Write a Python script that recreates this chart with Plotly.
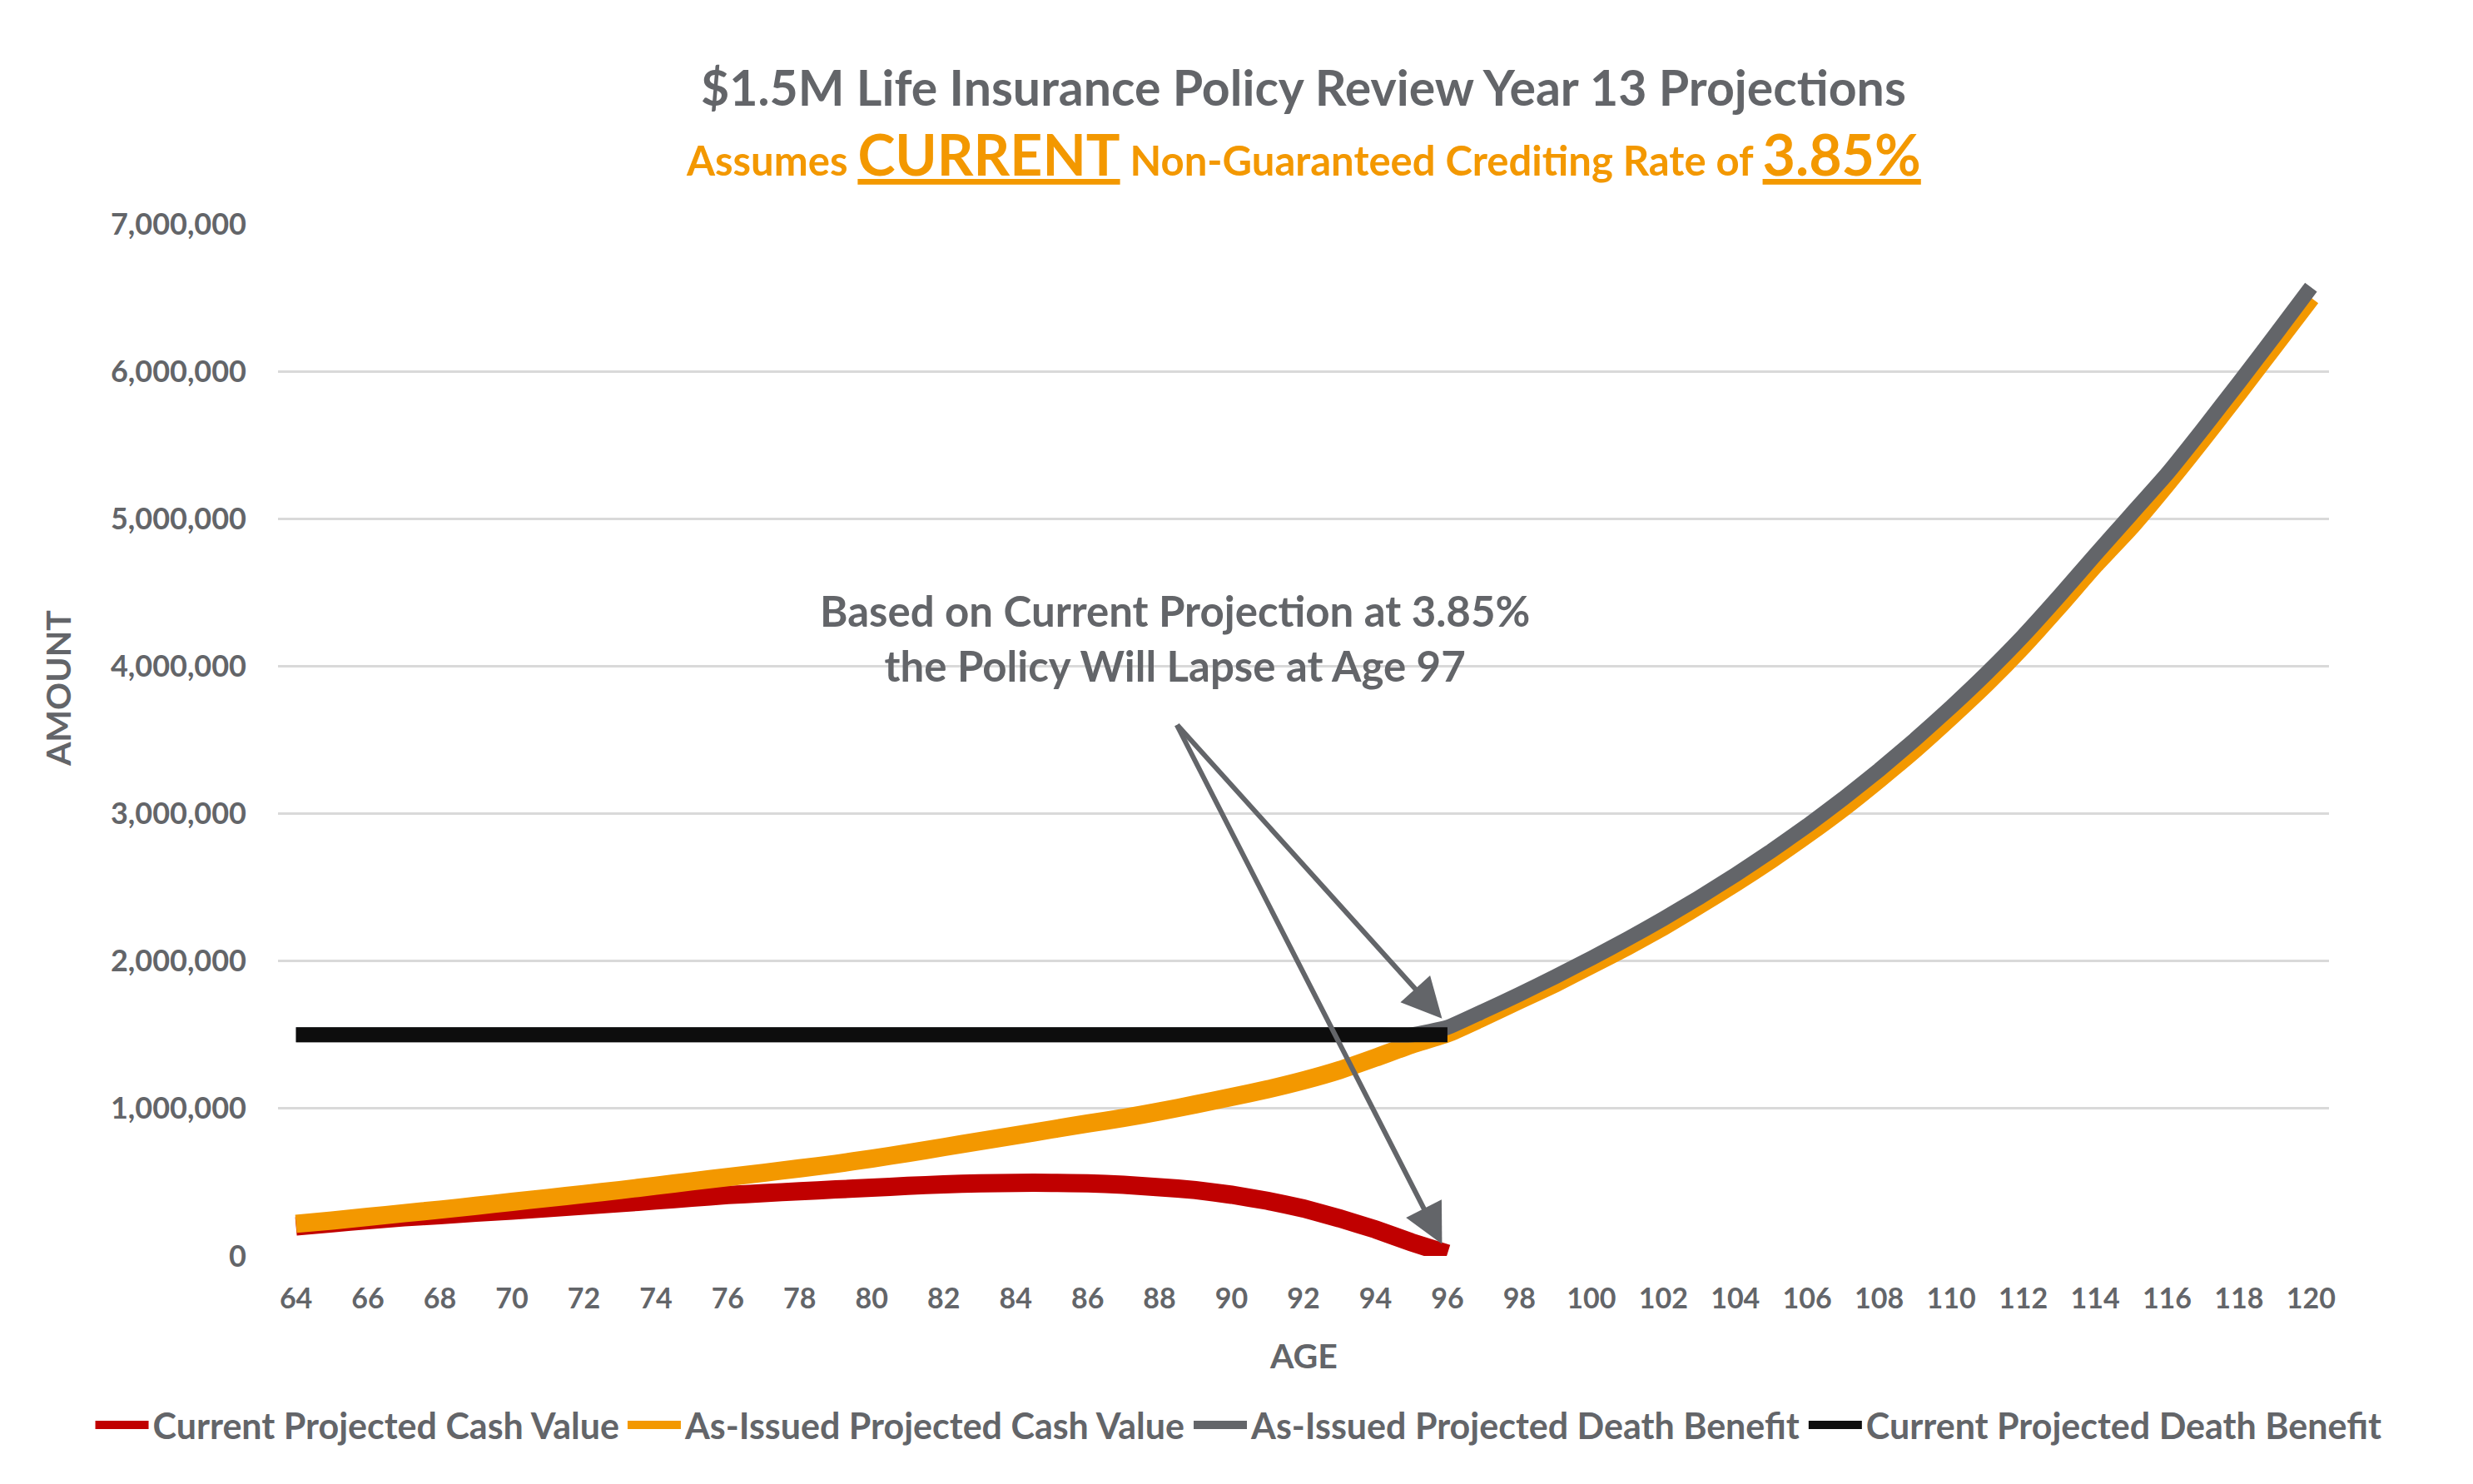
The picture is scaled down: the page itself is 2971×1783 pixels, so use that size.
import plotly.graph_objects as go

# ages on the x axis
ages = list(range(64, 121))
ages_current = list(range(64, 97))

# Current Projected Cash Value (runs out at 96)
current_cash = [200000, 222000, 243000, 262000, 277000, 293000, 308000, 324000, 341000, 358000,
                376000, 395000, 413000, 426000, 439000, 451000, 463000, 475000, 486000, 493000,
                496000, 496000, 492000, 483000, 466000, 447000, 415000, 374000, 322000, 255000,
                180000, 92000, 15000]

# As-Issued Projected Cash Value
issued_cash = [218000, 240000, 265000, 290000, 314000, 340000, 367000, 393000, 420000, 447000,
               476000, 506000, 535000, 564000, 594000, 625000, 660000, 698000, 738000, 778000,
               818000, 858000, 898000, 936000, 980000, 1028000, 1078000, 1130000, 1190000, 1260000,
               1345000, 1434000, 1510000, 1620000, 1735000, 1850000, 1975000, 2100000, 2235000, 2380000,
               2530000, 2690000, 2860000, 3040000, 3235000, 3440000, 3660000, 3890000, 4140000, 4410000,
               4690000, 4950000, 5240000, 5545000, 5860000, 6180000, 6500000]

# As-Issued Projected Death Benefit
issued_death = [1500000] * 32 + [1550000, 1660000, 1775000, 1895000, 2020000, 2150000, 2287000, 2432000,
                                 2585000, 2747000, 2919000, 3102000, 3297000, 3504000, 3724000, 3956000,
                                 4205000, 4475000, 4755000, 5030000, 5305000, 5610000, 5925000, 6245000,
                                 6570000]

# Current Projected Death Benefit
current_death = [1500000] * 33

x_ticks = list(range(64, 121, 2))
y_ticks = [0, 1000000, 2000000, 3000000, 4000000, 5000000, 6000000, 7000000]

GREY_TXT = '#636569'
ORANGE = '#F39800'
FONT = 'Lato'

fig = go.Figure()
fig.add_scatter(x=ages_current, y=current_cash, mode='lines', name='Current Projected Cash Value',
                line=dict(color='#C00000', width=22, shape='spline', smoothing=0.3))
fig.add_scatter(x=ages, y=issued_cash, mode='lines', name='As-Issued Projected Cash Value',
                line=dict(color=ORANGE, width=22, shape='spline', smoothing=0.5))
fig.add_scatter(x=ages, y=issued_death, mode='lines', name='As-Issued Projected Death Benefit',
                line=dict(color='#636569', width=18, shape='spline', smoothing=0.4))
fig.add_scatter(x=ages_current, y=current_death, mode='lines', name='Current Projected Death Benefit',
                line=dict(color='#0D0D0D', width=18))

# title + subtitle
fig.add_annotation(x=0.5, y=1.133, xref='paper', yref='paper', showarrow=False, yanchor='middle',
                   text='<b>$1.5M Life Insurance Policy Review Year 13 Projections</b>',
                   font=dict(family=FONT, size=59, color=GREY_TXT))
fig.add_annotation(x=0.5, y=1.0685, xref='paper', yref='paper', showarrow=False, yanchor='middle',
                   text='<b>Assumes <u><span style="font-size:68px">CURRENT</span></u> Non-Guaranteed '
                        'Crediting Rate of <u><span style="font-size:68px">3.85%</span></u></b>',
                   font=dict(family=FONT, size=49, color=ORANGE))

# lapse note with two arrows
fig.add_annotation(x=88.42, y=4190000, xref='x', yref='y', showarrow=False,
                   text='<b>Based on Current Projection at 3.85%<br>the Policy Will Lapse at Age 97</b>',
                   font=dict(family=FONT, size=51, color=GREY_TXT))
fig.add_annotation(x=95.85, y=1610000, ax=88.46, ay=3610000, xref='x', yref='y', axref='x', ayref='y',
                   text='', showarrow=True, arrowhead=2, arrowsize=1.6, arrowwidth=6, arrowcolor=GREY_TXT)
fig.add_annotation(x=95.85, y=80000, ax=88.46, ay=3610000, xref='x', yref='y', axref='x', ayref='y',
                   text='', showarrow=True, arrowhead=2, arrowsize=1.6, arrowwidth=6, arrowcolor=GREY_TXT)

# axis titles
fig.add_annotation(x=0.5, y=-0.0965, xref='paper', yref='paper', showarrow=False, yanchor='middle',
                   text='<b>AGE</b>', font=dict(family=FONT, size=41, color=GREY_TXT))
fig.add_annotation(x=-0.1073, y=0.5496, xref='paper', yref='paper', showarrow=False, textangle=-90,
                   xanchor='center', yanchor='middle',
                   text='<b>AMOUNT</b>', font=dict(family=FONT, size=41, color=GREY_TXT))

fig.update_layout(
    width=2971, height=1783,
    margin=dict(l=326, r=181, t=261, b=282),
    plot_bgcolor='white', paper_bgcolor='white',
    font=dict(family=FONT, color=GREY_TXT),
    showlegend=True,
    legend=dict(orientation='h', x=-0.0911, xanchor='left', y=-0.1637, yanchor='middle',
                font=dict(family=FONT, size=43, color=GREY_TXT, weight='bold'),
                itemwidth=64, tracegroupgap=0),
)
fig.update_xaxes(range=[63.5, 120.5], tickvals=x_ticks, showgrid=False, zeroline=False, showline=False,
                 tickfont=dict(family=FONT, size=34, color=GREY_TXT, weight='bold'),
                 ticklabelstandoff=28)
fig.update_yaxes(range=[0, 7000000], tickvals=y_ticks, tickformat=',', showgrid=True, gridcolor='#D9D9D9',
                 gridwidth=3, zeroline=False, showline=False,
                 tickfont=dict(family=FONT, size=36, color=GREY_TXT, weight='bold'),
                 ticklabelstandoff=37)

fig.write_html("out.html")
